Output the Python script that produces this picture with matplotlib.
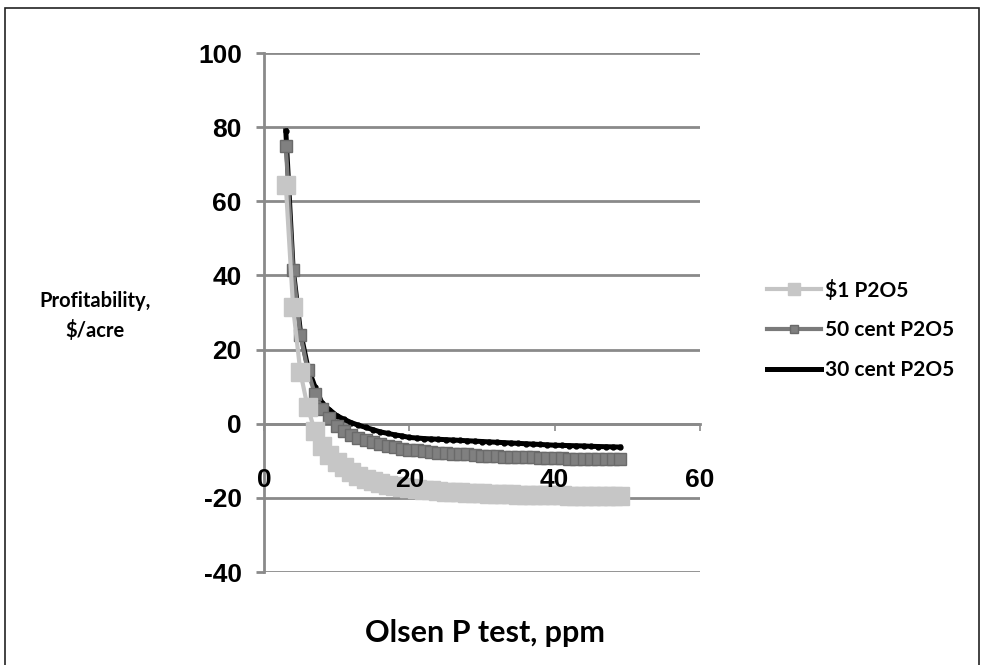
import matplotlib.pyplot as plt
from matplotlib.patches import Rectangle

plt.rcParams['axes.unicode_minus'] = False

# Olsen P test, ppm
olsen_p = [3, 4, 5, 6, 7, 8, 9, 10, 11, 12, 13, 14, 15, 16, 17, 18, 19,
           20, 21, 22, 23, 24, 25, 26, 27, 28, 29, 30, 31, 32, 33, 34, 35,
           36, 37, 38, 39, 40, 41, 42, 43, 44, 45, 46, 47, 48, 49]

# profitability, $/acre
p2o5_1dollar = [64.5, 31.5, 14, 4.5, -2, -6, -8.5, -10.3, -11.8, -13, -14, -14.8, -15.4, -16, -16.4, -16.8, -17.1,
                -17.4, -17.6, -17.8, -17.95, -18.1, -18.3, -18.4, -18.5, -18.6, -18.7, -18.8, -18.85, -18.9, -19.0, -19.05, -19.1,
                -19.15, -19.2, -19.25, -19.3, -19.3, -19.35, -19.4, -19.45, -19.5, -19.5, -19.55, -19.6, -19.6, -19.6]
p2o5_50cent = [75, 41.5, 24, 14.5, 8, 4, 1.5, -0.5, -2, -3, -3.8, -4.5, -5, -5.6, -6, -6.4, -6.7,
               -7.0, -7.2, -7.4, -7.6, -7.8, -8.0, -8.1, -8.2, -8.3, -8.45, -8.6, -8.7, -8.8, -8.85, -8.9, -9.0,
               -9.05, -9.1, -9.2, -9.25, -9.3, -9.35, -9.4, -9.45, -9.5, -9.5, -9.55, -9.6, -9.6, -9.6]
p2o5_30cent = [79, 42, 25, 15.5, 10, 5.5, 3.8, 2.2, 1.2, 0.3, -0.4, -1, -1.6, -2.2, -2.6, -3, -3.3,
               -3.7, -3.85, -4.0, -4.1, -4.2, -4.3, -4.4, -4.5, -4.6, -4.7, -4.8, -4.9, -5.0, -5.1, -5.2, -5.3,
               -5.4, -5.5, -5.6, -5.7, -5.8, -5.85, -5.9, -5.95, -6.0, -6.1, -6.15, -6.2, -6.25, -6.3]

labels = ['$1 P2O5', '50 cent P2O5', '30 cent P2O5']
y_ticks = [-40, -20, 0, 20, 40, 60, 80, 100]
x_ticks = [0, 20, 40, 60]

fig = plt.figure(figsize=(9.84, 6.65), dpi=100)
fig.patches.append(Rectangle((5 / 984, -0.05), 0.99, 1 - 8 / 665 + 0.05, transform=fig.transFigure,
                             fill=False, edgecolor='#222222', linewidth=1.2))

ax = fig.add_axes([264 / 984, 1 - 572 / 665, 436 / 984, 519 / 665])

h30, = ax.plot(olsen_p, p2o5_30cent, color='black', linewidth=3.6, marker='o', markersize=3.5, zorder=3)
h50, = ax.plot(olsen_p, p2o5_50cent, color='#7a7a7a', linewidth=3, marker='s', markersize=8.5,
               markerfacecolor='#808080', markeredgecolor='#6a6a6a', zorder=4)
h1, = ax.plot(olsen_p, p2o5_1dollar, color='#c4c4c4', linewidth=3, marker='s', markersize=13,
              markerfacecolor='#c6c6c6', markeredgecolor='#c6c6c6', zorder=5)

ax.set_xlim(0, 60)
ax.set_ylim(-40, 100)
ax.set_yticks(y_ticks)
ax.set_xticks(x_ticks)
ax.yaxis.grid(True, color='#8a8a8a', linewidth=2)
ax.set_axisbelow(True)
ax.xaxis.set_zorder(6)

for s in ['top', 'right']:
    ax.spines[s].set_visible(False)
ax.spines['bottom'].set_position(('data', 0))
ax.spines['bottom'].set_color('#8a8a8a')
ax.spines['bottom'].set_linewidth(2)
ax.spines['left'].set_color('#8a8a8a')
ax.spines['left'].set_linewidth(2)

ax.tick_params(axis='y', length=6, width=2, color='#8a8a8a', pad=10)
ax.tick_params(axis='x', length=5, width=1.2, color='#8a8a8a', pad=27)
for t in ax.get_xticklabels() + ax.get_yticklabels():
    t.set_fontfamily('Liberation Sans')
    t.set_fontweight('bold')
    t.set_fontsize(19)

fig.text(95 / 984, 1 - 316 / 665, 'Profitability,\n$/acre', ha='center', va='center',
         fontsize=14.5, fontweight='bold', family='Lato', linespacing=1.55)
fig.text(485 / 984, 1 - 633 / 665, 'Olsen P test, ppm', ha='center', va='center',
         fontsize=22, fontweight='bold', family='Lato')

leg = fig.legend([h1, h50, h30], labels, loc='center left', bbox_to_anchor=(748 / 984, 1 - 330 / 665),
                 frameon=False, prop={'family': 'Lato', 'weight': 'bold', 'size': 15},
                 handlelength=2.6, handletextpad=0.2, labelspacing=0.95, markerscale=0.65)

fig.savefig('out.png', dpi=100)
